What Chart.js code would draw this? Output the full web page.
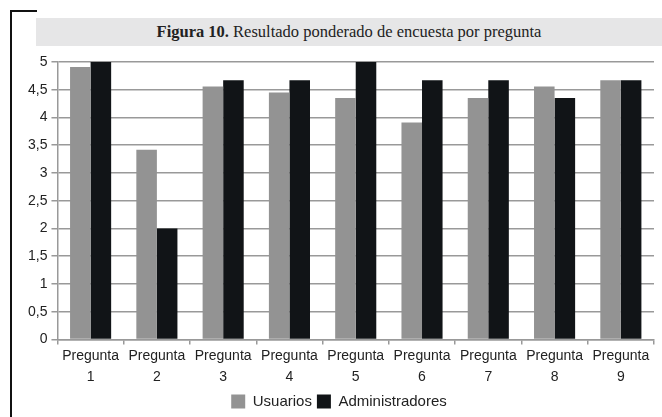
<!DOCTYPE html>
<html>
<head>
<meta charset="utf-8">
<script src="https://cdn.jsdelivr.net/npm/chart.js@4/dist/chart.umd.min.js"></script>
<style>
  body { margin: 0; background: #fff; width: 662px; height: 417px; position: relative; overflow: hidden; }
  #frameV { position: absolute; left: 10px; top: 10px; width: 2px; height: 407px; background: #111; }
  #frameH { position: absolute; left: 10px; top: 10px; width: 27px; height: 2px; background: #111; }
  #titleBand { position: absolute; left: 36px; top: 18px; width: 626px; height: 28px; background: #e6e6e7;
    font-family: "Liberation Serif", serif; font-size: 16.5px; color: #222; text-align: center; line-height: 28px; }
  #wrap { position: absolute; left: 14px; top: 48px; width: 648px; height: 371px; }
</style>
</head>
<body>
<div id="frameV"></div>
<div id="frameH"></div>
<div id="titleBand"><b>Figura 10.</b> Resultado ponderado de encuesta por pregunta</div>
<div id="wrap"><canvas id="myChart" width="648" height="371"></canvas></div>
<script>
// categories and values
var preguntas = [
  ['Pregunta', '1'], ['Pregunta', '2'], ['Pregunta', '3'], ['Pregunta', '4'], ['Pregunta', '5'],
  ['Pregunta', '6'], ['Pregunta', '7'], ['Pregunta', '8'], ['Pregunta', '9']
];
var usuarios = [4.91, 3.42, 4.56, 4.45, 4.35, 3.91, 4.35, 4.56, 4.67];
var administradores = [5, 2, 4.67, 4.67, 5, 4.67, 4.67, 4.35, 4.67];

var ctx = document.getElementById('myChart').getContext('2d');

var myChart = new Chart(ctx, {
  type: 'bar',
  data: {
    labels: preguntas,
    datasets: [{
      label: 'Usuarios',
      backgroundColor: '#939393',
      data: usuarios,
      barPercentage: 1,
      categoryPercentage: 0.62
    }, {
      label: 'Administradores',
      backgroundColor: '#111417',
      data: administradores,
      barPercentage: 1,
      categoryPercentage: 0.62
    }]
  },
  options: {
    responsive: false,
    animation: false,
    layout: { padding: { top: 14, right: 8, left: 10, bottom: 0 } },
    plugins: {
      tooltip: { enabled: false },
      legend: {
        position: 'bottom',
        labels: {
          boxWidth: 14, boxHeight: 14, padding: 5,
          color: '#222',
          font: { family: 'Liberation Sans', size: 15 }
        }
      }
    },
    scales: {
      x: {
        grid: { drawOnChartArea: false, drawTicks: true, tickLength: 5, color: '#999', lineWidth: 1.5 },
        border: { color: '#999', width: 1.5 },
        ticks: {
          color: '#222', maxRotation: 0, autoSkip: false, padding: 2,
          font: { family: 'Liberation Sans', size: 14, lineHeight: 1.45 }
        }
      },
      y: {
        min: 0, max: 5,
        grid: { color: '#999', lineWidth: 1.5, tickLength: 6 },
        border: { color: '#999', width: 1.5 },
        ticks: {
          stepSize: 0.5, color: '#222', padding: 4,
          font: { family: 'Liberation Sans', size: 14 },
          callback: function(v) { return String(v).replace('.', ','); }
        }
      }
    }
  }
});
</script>
</body>
</html>
